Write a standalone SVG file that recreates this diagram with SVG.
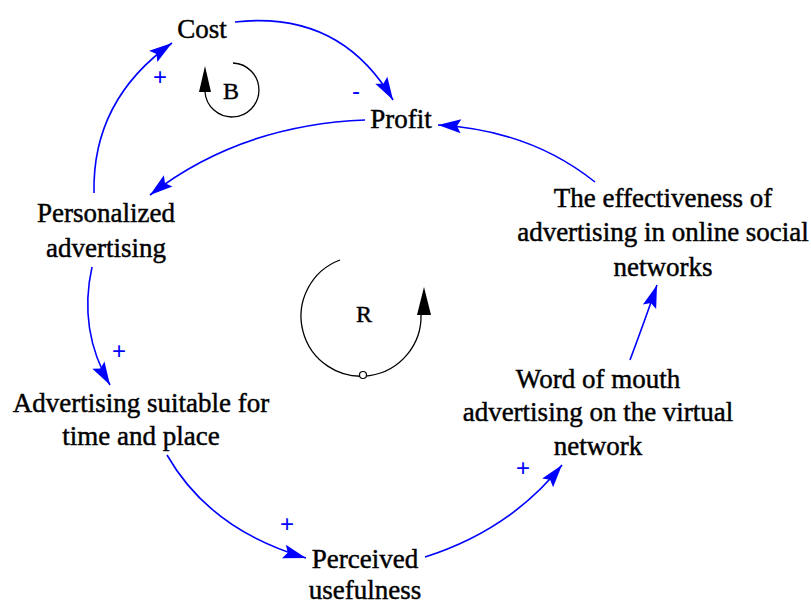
<svg xmlns="http://www.w3.org/2000/svg" width="811" height="606" viewBox="0 0 811 606">
<defs>
<style>
.lbl{font-family:'Liberation Serif','DejaVu Serif',serif;font-size:27px;fill:#000;stroke:#000;stroke-width:0.45;text-anchor:middle}
.pol{font-family:'Liberation Sans',sans-serif;font-size:24px;fill:#0000FF;text-anchor:middle}
.link{fill:none;stroke:#0000FF;stroke-width:1.6;marker-end:url(#ah)}
.loop{fill:none;stroke:#000;stroke-width:1.3}
</style>
<marker id="ah" viewBox="-24 -8 26 16" refX="0" refY="0" markerWidth="26" markerHeight="16" markerUnits="userSpaceOnUse" orient="auto">
<path d="M0,0 L-23,-7 L-19,0 L-23,7 z" fill="#0000FF"/>
</marker>
</defs>
<rect width="811" height="606" fill="#fff"/>
<g id="connectors">
<path class="link" d="M94,193 Q92,100 172,43"/>
<path class="link" d="M235,22 Q340,10 393,100"/>
<path class="link" d="M365,120 Q240,125 150,195"/>
<path class="link" d="M595,182 Q530,130 438,125"/>
<path class="link" d="M92,267 Q78,330 110,385"/>
<path class="link" d="M167,455 Q210,530 306,558"/>
<path class="link" d="M425,557 Q510,530 562,465"/>
<path class="link" d="M630,360 Q645,320 657,285"/>
</g>
<g id="polarities" font-family="Liberation Sans, sans-serif">
<text class="pol" x="160" y="85">+</text>
<text class="pol" x="356" y="99">-</text>
<text class="pol" x="119" y="359">+</text>
<text class="pol" x="287" y="532">+</text>
<text class="pol" x="523" y="476">+</text>
</g>
<g font-family="Liberation Serif, serif">
<g id="loop-B">
<path class="loop" d="M233,63 A27,27 0 1 1 205,92"/>
<path d="M205,66 L199,92 L211,92 z" fill="#000"/>
<text class="lbl" x="231" y="99" style="font-size:24px">B</text>
</g>
<g id="loop-R">
<path class="loop" d="M340,260 A60,60 0 1 0 421,314"/>
<path d="M424,287 L417,315 L431,315 z" fill="#000"/>
<circle cx="363" cy="375" r="3.5" fill="#fff" stroke="#000" stroke-width="1.2"/>
<text class="lbl" x="364" y="322" style="font-size:24px">R</text>
</g>
<g id="cost"><text class="lbl" x="202" y="38">Cost</text></g>
<g id="profit"><text class="lbl" x="401" y="128">Profit</text></g>
<g id="personalized"><text class="lbl" x="106" y="222">Personalized</text><text class="lbl" x="106" y="257">advertising</text></g>
<g id="suitable"><text class="lbl" x="141" y="412">Advertising suitable for</text><text class="lbl" x="141" y="445">time and place</text></g>
<g id="perceived"><text class="lbl" x="365" y="568">Perceived</text><text class="lbl" x="365" y="599">usefulness</text></g>
<g id="wom"><text class="lbl" x="598" y="388">Word of mouth</text><text class="lbl" x="598" y="421">advertising on the virtual</text><text class="lbl" x="598" y="455">network</text></g>
<g id="effectiveness"><text class="lbl" x="663" y="207">The effectiveness of</text><text class="lbl" x="663" y="241">advertising in online social</text><text class="lbl" x="663" y="276">networks</text></g>
</g>
</svg>
